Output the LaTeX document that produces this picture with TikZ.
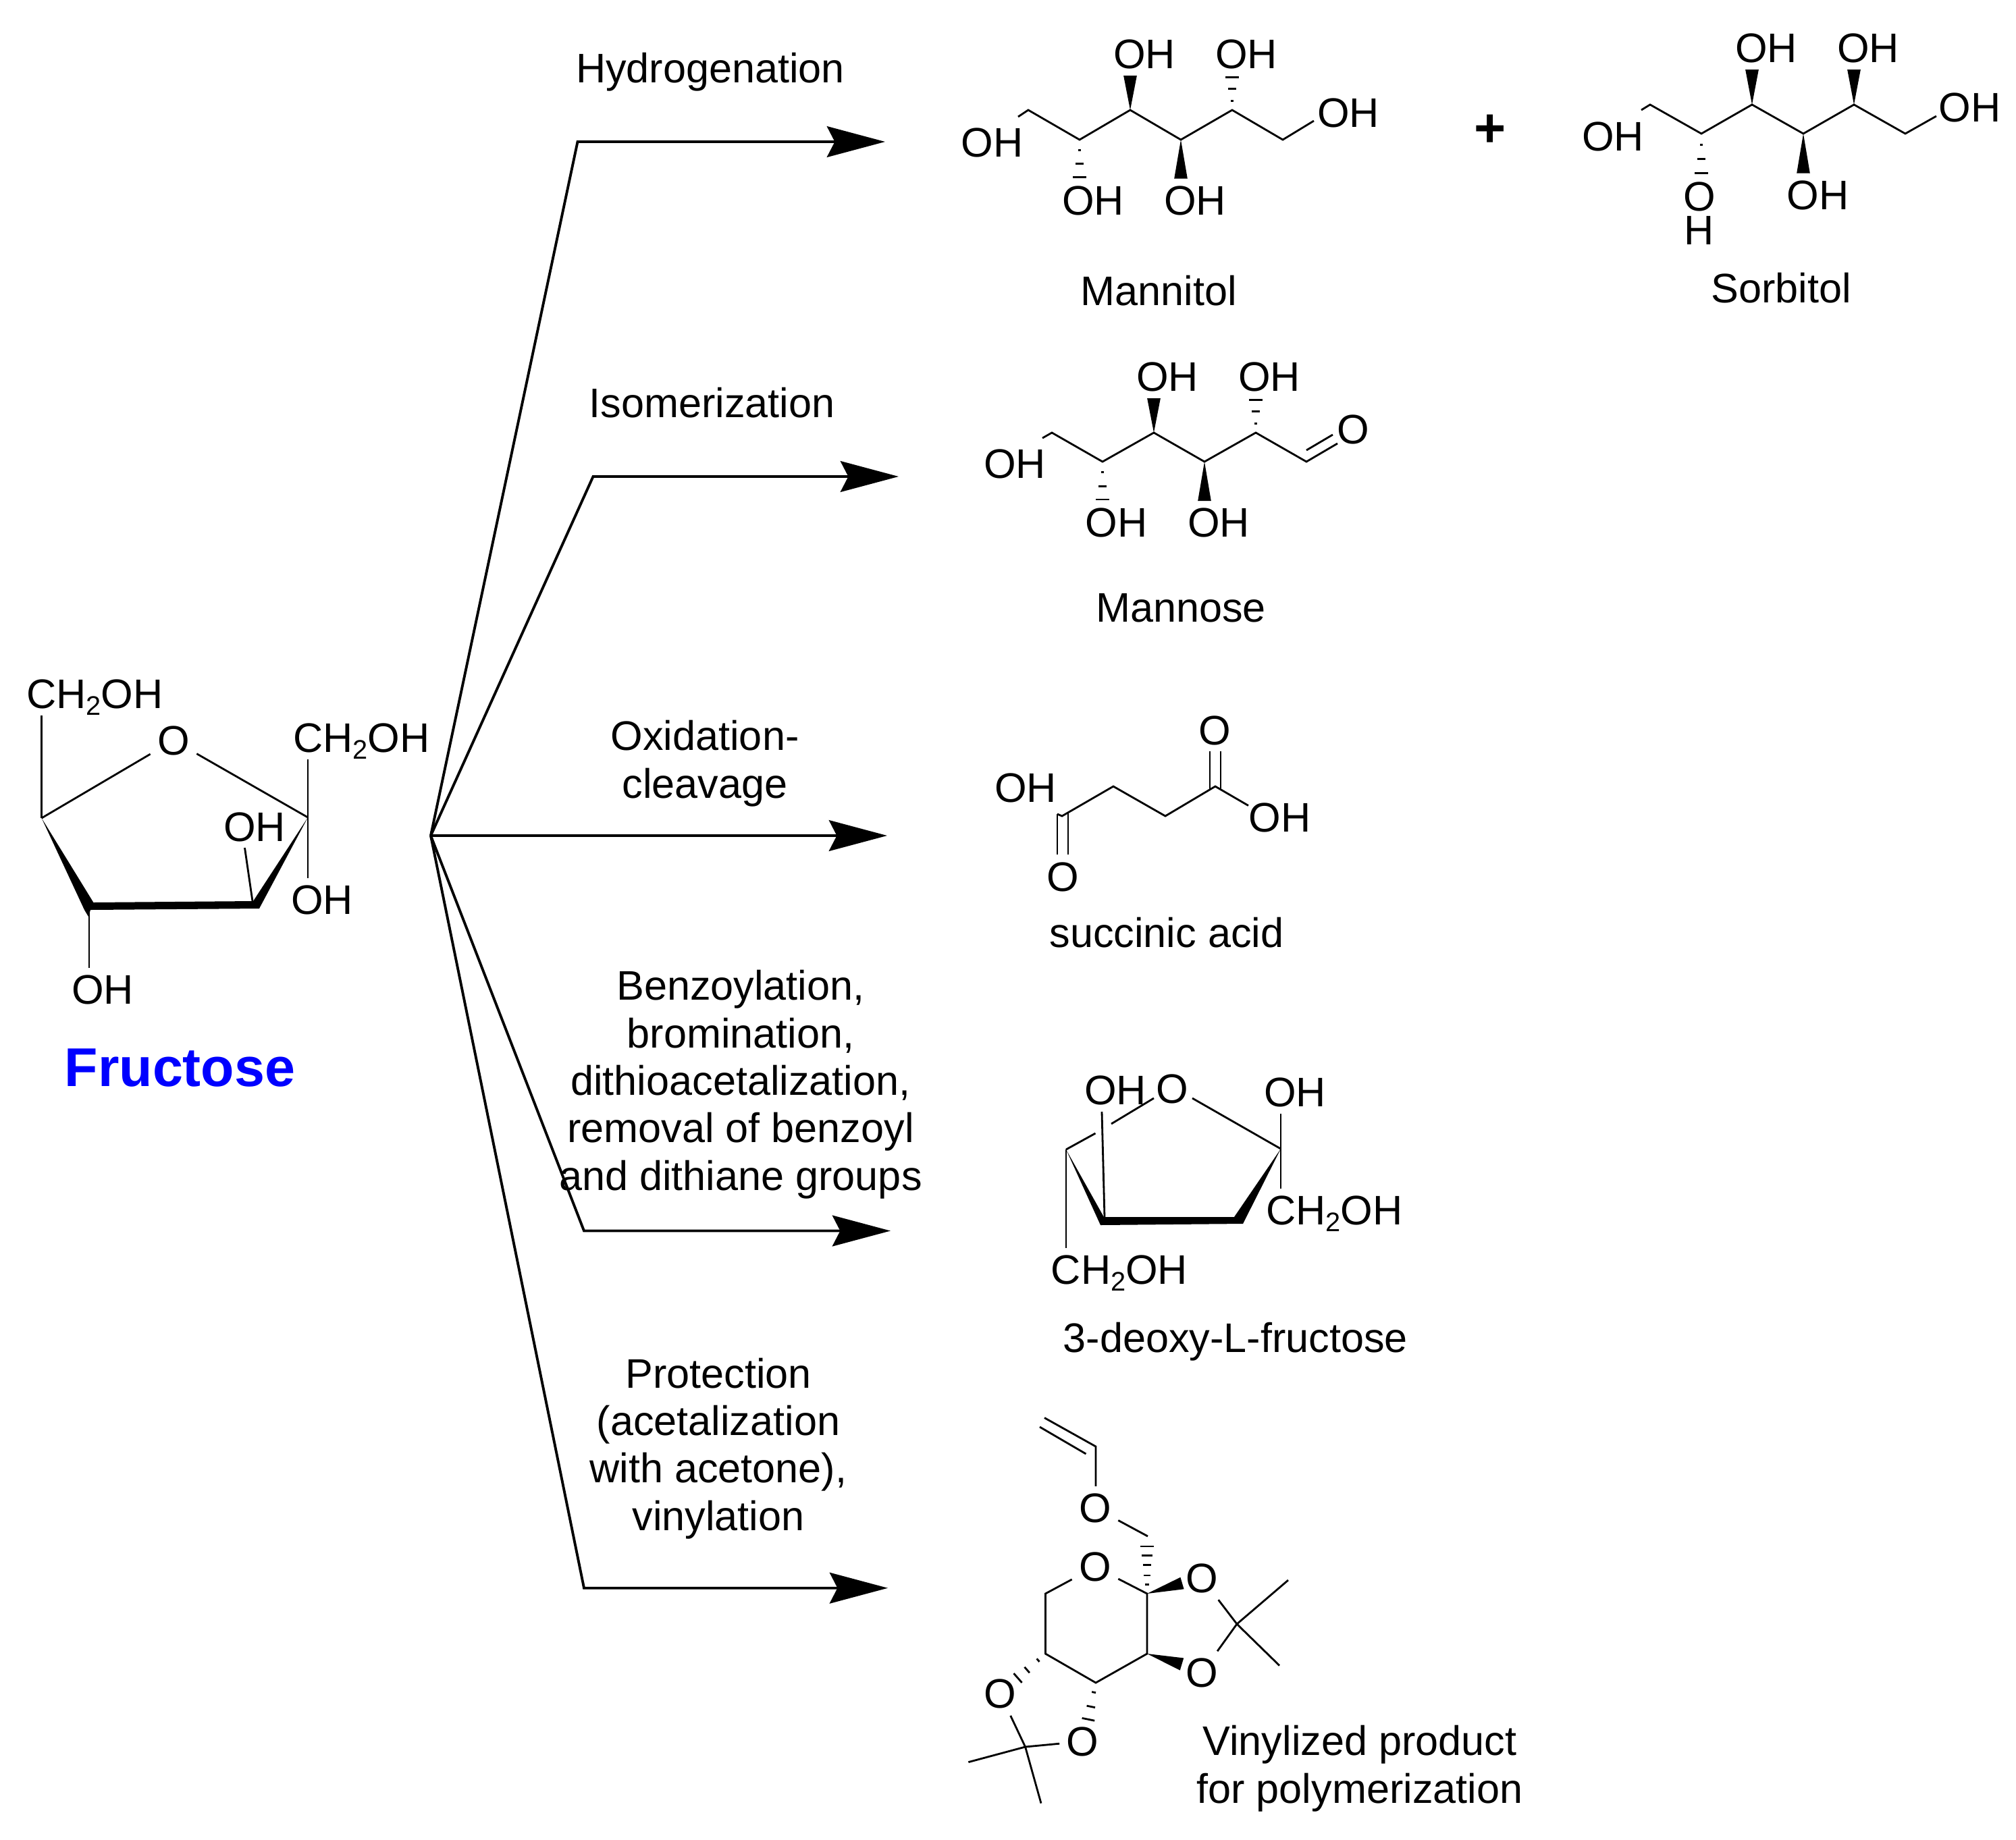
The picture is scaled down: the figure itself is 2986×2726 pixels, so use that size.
\documentclass[tikz,border=0pt]{standalone}
\usepackage{fontspec}
\setmainfont{Liberation Sans}
\usetikzlibrary{arrows.meta,calc}

\newcommand{\chtwo}{CH\raisebox{-3pt}[0pt][0pt]{\fontsize{11.3}{12}\selectfont 2}OH}
\newcommand{\wedgebond}[3][2.8pt]{\fill (#2) -- ($(#3)!#1!90:(#2)$) -- ($(#3)!#1!-90:(#2)$) -- cycle;}
\newcommand{\hashbond}[3][.27/.6pt,.62/1.7pt,.96/2.8pt]{\foreach \pos/\half in {#1} \draw[bond] ($(#2)!\pos!(#3)!\half!90:(#3)$) -- ($(#2)!\pos!(#3)!\half!-90:(#3)$);}

\begin{document}
\begin{tikzpicture}[x=0.01cm,y=-0.01cm,
        atom/.style={font=\fontsize{17.4}{20}\selectfont,inner sep=2.8pt,anchor=base},
        caption/.style={font=\fontsize{17.4}{20}\selectfont,inner sep=0pt,anchor=base,align=center},
        heading/.style={font=\bfseries\fontsize{23}{26}\selectfont,inner sep=0pt,anchor=base},
        bond/.style={line width=0.8pt},
        branch/.style={line width=1.1pt,-{Stealth[length=24.5pt,width=13pt,inset=3.3pt]}}]
        \useasboundingbox (0,0) rectangle (2986,2726);

        \coordinate (hub) at (638,1238);
        \coordinate (hydroBend) at (855.5,210);
        \coordinate (hydroTip) at (1311,210);
        \coordinate (isoBend) at (878.5,706);
        \coordinate (isoTip) at (1331,706);
        \coordinate (oxTip) at (1314,1238);
        \coordinate (benzBend) at (865,1823.5);
        \coordinate (benzTip) at (1319,1823.5);
        \coordinate (protBend) at (865,2352.7);
        \coordinate (protTip) at (1315,2352.7);

        \draw[branch] (hub) -- (hydroBend) -- (hydroTip);
        \draw[branch] (hub) -- (isoBend) -- (isoTip);
        \draw[branch] (hub) -- (oxTip);
        \draw[branch] (hub) -- (benzBend) -- (benzTip);
        \draw[branch] (hub) -- (protBend) -- (protTip);

        \node[caption] (hydroText) at (1052,122) {Hydrogenation};
        \node[caption] (isoText) at (1054.5,618) {Isomerization};
        \node[caption] (oxText) at (1044,1182) {Oxidation-\\cleavage};
        \node[caption] (benzText) at (1097,1763) {Benzoylation,\\bromination,\\dithioacetalization,\\removal of benzoyl\\and dithiane groups};
        \node[caption] (protText) at (1064,2267) {Protection\\(acetalization\\with acetone),\\vinylation};

        \coordinate (f5) at (61.6,1212);
        \coordinate (f2) at (456,1211);
        \coordinate (f3) at (374,1335);
        \coordinate (f4) at (132,1346);
        \coordinate (fIn) at (362.5,1256);
        \node[atom] (fO) at (257,1118) {O};
        \node[atom] (fCHa) at (140.5,1049) {\chtwo};
        \node[atom] (fCHb) at (535.5,1114) {\chtwo};
        \node[atom] (fOHa) at (377,1246) {OH};
        \node[atom] (fOHb) at (477,1354) {OH};
        \node[atom] (fOHc) at (152,1487) {OH};
        \node[heading,text=blue] (fructose) at (266.5,1609) {Fructose};
        \fill (f5) -- (138.4,1337) -- (375,1335) -- (f2) -- (384,1346) -- (134,1348) -- (131,1358) -- (125,1348) -- cycle;
        \draw[bond] (f5) -- (fO);
        \draw[bond] (f2) -- (fO);
        \draw[bond] (f5) -- (f5 |- fCHa.south);
        \draw[bond] (f2) -- (f2 |- fCHb.south);
        \draw[bond] (f2) -- (f2 |- fOHb.north);
        \draw[bond] (f3) -- (fIn);
        \draw[bond] (f4) -- (f4 |- fOHc.north);

        \coordinate (m1) at (1523,163);
        \coordinate (m2) at (1599,207);
        \coordinate (m3) at (1674,163);
        \coordinate (m4) at (1749,207);
        \coordinate (m5) at (1825,163);
        \coordinate (m6) at (1900,207);
        \coordinate (mEndL) at (1508,173);
        \coordinate (mEndR) at (1946,179);
        \node[atom] (mOHa) at (1469.5,232) {OH};
        \node[atom] (mOHb) at (1695,101) {OH};
        \node[atom] (mOHc) at (1846,101) {OH};
        \node[atom] (mOHd) at (1997,188) {OH};
        \node[atom] (mOHe) at (1619,318) {OH};
        \node[atom] (mOHf) at (1770,318) {OH};
        \node[caption] (mannitol) at (1716.5,452) {Mannitol};
        \draw[bond] (mEndL) -- (m1) -- (m2) -- (m3) -- (m4) -- (m5) -- (m6) -- (mEndR);
        \wedgebond{m3}{m3 |- mOHb.south}
        \hashbond{m5}{m5 |- mOHc.south}
        \hashbond{m2}{m2 |- mOHe.north}
        \wedgebond{m4}{m4 |- mOHf.north}

        \node[heading] (plus) at (2207,217) {+};

        \coordinate (b1) at (2444,155);
        \coordinate (b2) at (2520,198);
        \coordinate (b3) at (2595,155);
        \coordinate (b4) at (2671,198);
        \coordinate (b5) at (2746,155);
        \coordinate (b6) at (2822,198);
        \coordinate (bEndL) at (2431,163);
        \coordinate (bEndR) at (2868,172);
        \node[atom] (bOHa) at (2389,223) {OH};
        \node[atom] (bOHb) at (2616,92) {OH};
        \node[atom] (bOHc) at (2767,92) {OH};
        \node[atom] (bOHd) at (2917.5,180) {OH};
        \node[atom,align=center,font=\fontsize{17.4}{14.2}\selectfont] (bOHe) at (2517,362) {O\\H};
        \node[atom] (bOHf) at (2692.5,310) {OH};
        \node[caption] (sorbitol) at (2638,448) {Sorbitol};
        \draw[bond] (bEndL) -- (b1) -- (b2) -- (b3) -- (b4) -- (b5) -- (b6) -- (bEndR);
        \wedgebond{b3}{b3 |- bOHb.south}
        \wedgebond{b5}{b5 |- bOHc.south}
        \hashbond{b2}{b2 |- bOHe.north}
        \wedgebond{b4}{b4 |- bOHf.north}

        \coordinate (a1) at (1558,641);
        \coordinate (a2) at (1633,684);
        \coordinate (a3) at (1709,641);
        \coordinate (a4) at (1784,684);
        \coordinate (a5) at (1860,641);
        \coordinate (a6) at (1935,684);
        \coordinate (aEndL) at (1544,649);
        \coordinate (aEndR) at (1981,657);
        \coordinate (aDblA) at (1935,667);
        \coordinate (aDblB) at (1974,644);
        \node[atom] (aOHa) at (1503,708) {OH};
        \node[atom] (aOHb) at (1729,579) {OH};
        \node[atom] (aOHc) at (1880,579) {OH};
        \node[atom] (aO) at (2004.5,657) {O};
        \node[atom] (aOHd) at (1653.5,795.5) {OH};
        \node[atom] (aOHe) at (1805,795.5) {OH};
        \node[caption] (mannose) at (1749,921) {Mannose};
        \draw[bond] (aEndL) -- (a1) -- (a2) -- (a3) -- (a4) -- (a5) -- (a6) -- (aEndR);
        \draw[bond] (aDblA) -- (aDblB);
        \wedgebond{a3}{a3 |- aOHb.south}
        \hashbond{a5}{a5 |- aOHc.south}
        \hashbond{a2}{a2 |- aOHd.north}
        \wedgebond{a4}{a4 |- aOHe.north}

        \coordinate (s1) at (1573,1209);
        \coordinate (s2) at (1649,1165);
        \coordinate (s3) at (1726,1209);
        \coordinate (s4) at (1800,1165);
        \coordinate (sStub) at (1566,1206);
        \coordinate (sEnd) at (1849,1193.5);
        \node[atom] (sOHa) at (1519,1188) {OH};
        \node[atom] (sOHb) at (1895.5,1232) {OH};
        \node[atom] (sOa) at (1799,1103) {O};
        \node[atom] (sOb) at (1574,1320) {O};
        \node[caption] (succinic) at (1728,1403) {succinic acid};
        \draw[bond] (sStub) -- (s1) -- (s2) -- (s3) -- (s4) -- (sEnd);
        \draw[bond] (1792,1113) -- (1792,1169);
        \draw[bond] (1808,1113) -- (1808,1169);
        \draw[bond] (1566,1206) -- (1566,1266);
        \draw[bond] (1582,1205) -- (1582,1266);

        \coordinate (d5) at (1579,1703);
        \coordinate (d2) at (1897,1702);
        \node[atom] (dO) at (1736,1634) {O};
        \node[atom] (dOHa) at (1652,1636) {OH};
        \node[atom] (dOHb) at (1918,1639) {OH};
        \node[atom] (dCHa) at (1976.5,1814) {\chtwo};
        \node[atom] (dCHb) at (1658,1902) {\chtwo};
        \node[caption] (deoxy) at (1830,2003) {3-deoxy-L-fructose};
        \fill (d5) -- (1635,1803) -- (1828,1803) -- (d2) -- (1841,1813) -- (1630,1815) -- cycle;
        \draw[bond] (d2) -- (1766,1627);
        \draw[bond] (1709,1627) -- (1646,1665);
        \draw[bond] (1622.5,1679) -- (d5);
        \draw[bond] (1632,1647) -- (1636,1803);
        \draw[bond] (d5) -- (d5 |- dCHb.north);
        \draw[bond] (d2 |- dOHb.south) -- (d2 |- dCHa.north);

        \coordinate (vA) at (1699,2361);
        \coordinate (vB) at (1699,2450);
        \coordinate (vC) at (1623,2493);
        \coordinate (vD) at (1548.5,2450);
        \coordinate (vE) at (1548.5,2361);
        \coordinate (vV) at (1623,2143);
        \coordinate (vVa) at (1547,2100.5);
        \coordinate (vCH) at (1700,2276);
        \coordinate (vHash) at (1699,2288);
        \coordinate (vWa) at (1751,2345.5);
        \coordinate (vWb) at (1750.5,2465.5);
        \coordinate (vEndD) at (1503,2490);
        \coordinate (vEndC) at (1611,2552);
        \coordinate (qa) at (1832,2406);
        \coordinate (qb) at (1518.6,2588);
        \node[atom] (vOa) at (1622,2255) {O};
        \node[atom] (vOb) at (1622,2342.5) {O};
        \node[atom] (vOc) at (1780,2359) {O};
        \node[atom] (vOd) at (1780,2499.5) {O};
        \node[atom] (vOe) at (1481.5,2530.6) {O};
        \node[atom] (vOf) at (1603.6,2601) {O};
        \node[caption] (vinylized) at (2014,2671) {Vinylized product\\for polymerization};
        \draw[bond] (vVa) -- (vV) -- (vV |- vOa.north);
        \draw[bond] (1540,2114) -- (1608.5,2154);
        \draw[bond] (vOa) -- (vCH);
        \draw[bond] (vOb) -- (vE) -- (vD) -- (vC) -- (vB) -- (vA) -- (vOb);
        \draw[bond] (vOc) -- (qa);
        \draw[bond] (vOd) -- (qa);
        \draw[bond] (qa) -- (1908,2341);
        \draw[bond] (qa) -- (1895,2467.5);
        \draw[bond] (vOe) -- (qb);
        \draw[bond] (vOf) -- (qb);
        \draw[bond] (qb) -- (1434.4,2610.6);
        \draw[bond] (qb) -- (1542,2671.6);
        \wedgebond[2.6pt]{vA}{vWa}
        \wedgebond[2.7pt]{vB}{vWb}
        \hashbond[.18/.85pt,.37/1.4pt,.58/1.7pt,.77/2.3pt,.96/2.8pt]{vA}{vHash}
        \hashbond[.24/.85pt,.6/1.6pt,.9/2.6pt]{vD}{vEndD}
        \hashbond[.24/.85pt,.6/1.8pt,.92/2.7pt]{vC}{vEndC}
\end{tikzpicture}
\end{document}
